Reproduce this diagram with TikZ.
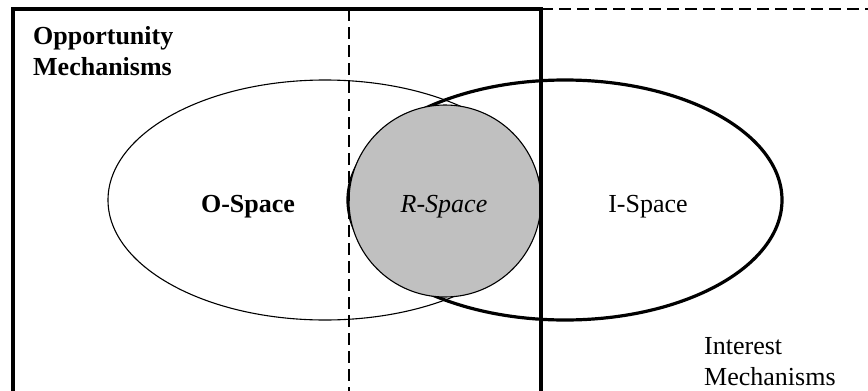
\documentclass[tikz,border=0pt]{standalone}
\usepackage{fontspec}
\setmainfont{Liberation Serif}
\usetikzlibrary{shapes.geometric,positioning}
\definecolor{ink}{HTML}{000000}
\definecolor{shade}{HTML}{C0C0C0}
\tikzset{
  space/.style={draw=ink,ellipse,minimum width=434pt,minimum height=240pt,inner sep=0pt},
  overlap/.style={draw=ink,circle,fill=shade,line width=1.1pt,minimum size=192pt,inner sep=0pt},
  frame/.style={draw=ink,line width=3.6pt,line join=miter},
  border/.style={draw=ink,line width=2pt,dash pattern=on 12pt off 6pt},
  label/.style={font=\fontsize{26}{31}\selectfont,text=ink,inner sep=0pt},
  title/.style={label,align=left,anchor=north west}
}

\begin{document}
\begin{tikzpicture}[x=1pt,y=-1pt]
  \useasboundingbox (0,0) rectangle (868,391);

  \node[space,line width=1.1pt] (ospace) at (325,200) {};
  \node[space,line width=3.2pt] (ispace) at (565,200) {};
  \node[overlap] (rspace) at (445,201) {};

  \coordinate (tl) at (13,9);
  \coordinate (tr) at (541,9);
  \coordinate (bl) at (13,400);
  \coordinate (br) at (541,400);
  \coordinate (far) at (868,9);
  \coordinate (dtop) at (349,9);
  \coordinate (dbot) at (349,400);

  \draw[frame] (bl) -- (tl) -- (tr) -- (br);
  \draw[border,line width=2.6pt] (tr) -- (far);
  \draw[border] (dtop) -- (dbot);

  \node[label,font=\fontsize{26}{31}\selectfont\bfseries,anchor=base] (olabel) at (248,212) {O-Space};
  \node[label,font=\fontsize{26}{31}\selectfont\itshape,anchor=base] (rlabel) at (444,212) {R-Space};
  \node[label,anchor=base] (ilabel) at (648,212) {I-Space};

  \node[title,font=\fontsize{26}{31}\selectfont\bfseries] (opp) at (33,26) {Opportunity\\Mechanisms};
  \node[title] (int) at (704,337) {Interest\\Mechanisms};
\end{tikzpicture}
\end{document}
